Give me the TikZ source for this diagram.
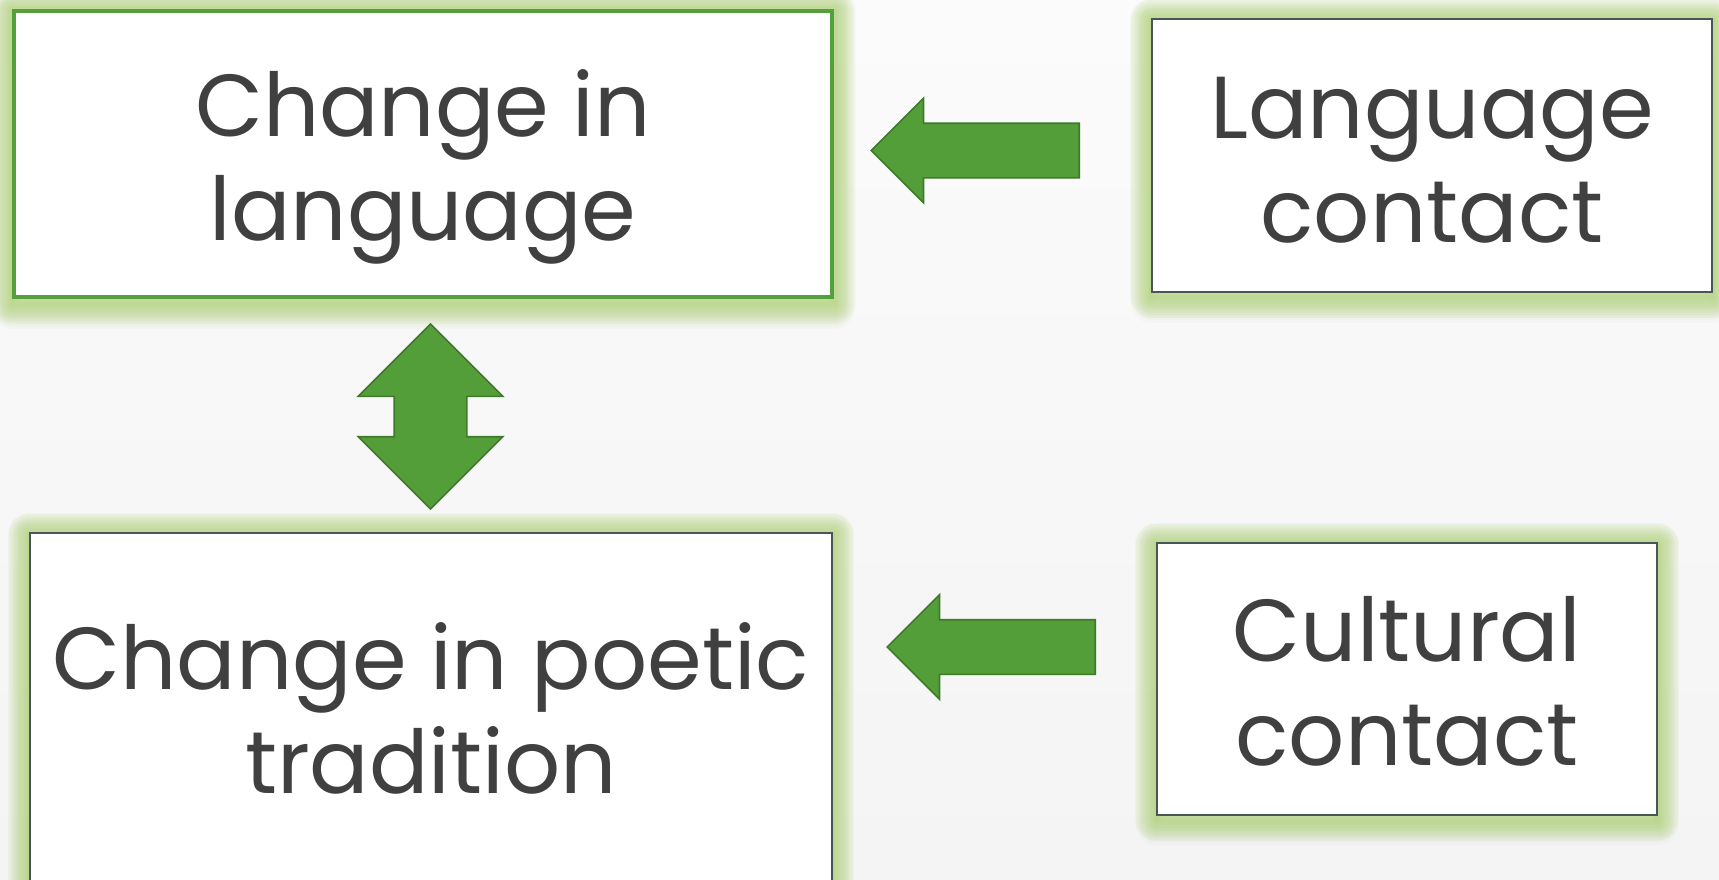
\documentclass[tikz,border=0pt]{standalone}
\usepackage{fontspec}
\setmainfont{Poppins}
\usetikzlibrary{shapes.arrows,backgrounds}
\definecolor{txtgray}{RGB}{64,64,64}
\definecolor{arrowgreen}{RGB}{84,158,57}
\definecolor{arrowedge}{RGB}{62,122,42}
\definecolor{glowgreen}{RGB}{172,214,105}
\definecolor{shadowolive}{RGB}{120,150,75}
\definecolor{boxgreen}{RGB}{84,160,60}
\definecolor{boxedge}{RGB}{72,86,86}
\definecolor{bgtop}{RGB}{251,251,251}
\definecolor{bgbot}{RGB}{244,244,244}
% two lines with fixed top and bottom struts
\newcommand\twolines[2]{\rule{0pt}{46.5pt}#1\\#2\rule[-12pt]{0pt}{12pt}}
\tikzset{
  card/.style={draw=boxedge, line width=0.8pt, fill=white, text=txtgray,
    align=center, inner sep=0pt, font=\fontsize{44}{52}\selectfont},
  blockarrow/.style={fill=arrowgreen, draw=arrowedge, line width=0.8pt,
    inner xsep=0pt, inner ysep=13.25pt, single arrow, single arrow head extend=12.5pt,
    minimum width=51.5pt, minimum height=104pt, shape border rotate=180, anchor=tail},
  bothways/.style={fill=arrowgreen, draw=arrowedge, line width=0.8pt,
    inner xsep=0pt, inner ysep=17.75pt, double arrow, double arrow head extend=18pt,
    minimum width=71.5pt, minimum height=92.5pt, rotate=90},
  halo/.style={line join=round},
}
\begin{document}
\begin{tikzpicture}[x=0.5pt,y=-0.5pt]
  \useasboundingbox (0,0) rectangle (1719,879);
  \clip (0,0) rectangle (1719,879);
  % boxes
  \node[card, draw=boxgreen, line width=2pt, minimum width=409pt, minimum height=143pt]
    (chlang) at (423,154) {\twolines{Change in}{language}};
  \node[card, minimum width=280pt, minimum height=136.5pt]
    (lgcon) at (1432,155.5) {\twolines{Language}{contact}};
  \node[card, minimum width=401pt, minimum height=174pt]
    (chpoet) at (431,707) {\twolines{Change in poetic}{tradition}};
  \node[card, minimum width=250pt, minimum height=136pt]
    (cucon) at (1407,679) {\twolines{Cultural}{contact}};
  % arrows (placed by their tails)
  \node[blockarrow] (arrlang) at (1080,150.5) {};
  \node[blockarrow] (arrcult) at (1096,647) {};
  \node[bothways] (arrboth) at (430.5,416.5) {};
  % background, soft shadow and glow
  \begin{scope}[on background layer]
    \shade[top color=bgtop, bottom color=bgbot] (0,0) rectangle (1719,879);
    \foreach \n in {chlang,lgcon,chpoet,cucon}{
      \foreach \i in {1,...,8}
        \draw[halo, shadowolive, line width=\i*2.5pt, opacity=0.025]
          ([yshift=-5pt]\n.south west) rectangle ([yshift=-1pt]\n.north east);
      \foreach \i in {1,...,12}
        \draw[halo, glowgreen, line width=\i*1.8pt, opacity=0.07]
          ([yshift=-2pt]\n.south west) rectangle ([yshift=-1pt]\n.north east);
    }
  \end{scope}
\end{tikzpicture}
\end{document}
